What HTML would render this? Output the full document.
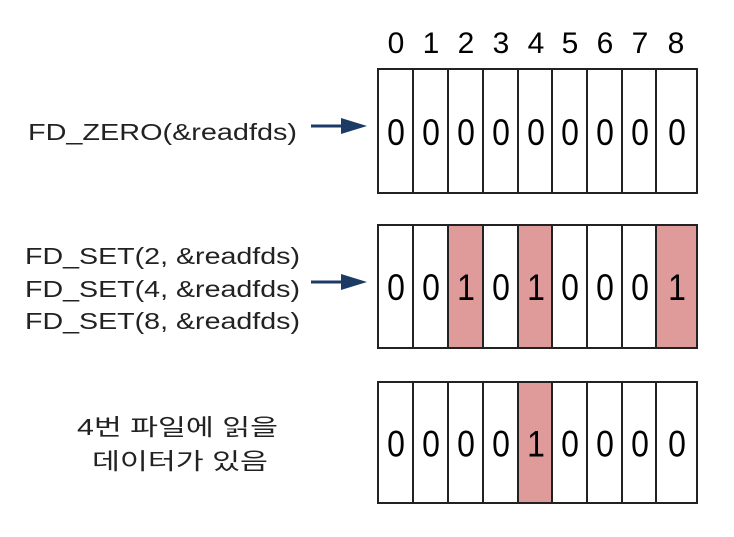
<!DOCTYPE html>
<html><head><meta charset="utf-8"><style>html,body{margin:0;padding:0;background:#fff}</style></head><body>
<svg width="734" height="532" xmlns="http://www.w3.org/2000/svg" font-family="Liberation Sans, Noto Sans CJK KR, sans-serif">
<g font-size="30" text-anchor="middle" fill="#000">
<text x="396" y="53">0</text><text x="431" y="53">1</text><text x="466" y="53">2</text><text x="501" y="53">3</text><text x="536" y="53">4</text><text x="570" y="53">5</text><text x="605" y="53">6</text><text x="640" y="53">7</text><text x="676" y="53">8</text>
</g>
<g stroke="#222" stroke-width="2" fill="#fff">
<rect x="378" y="69" width="319" height="124"/>
<rect x="378" y="225" width="319" height="123"/>
<rect x="448" y="225" width="35" height="123" fill="#df9a9a"/>
<rect x="518" y="225" width="34" height="123" fill="#df9a9a"/>
<rect x="656" y="225" width="41" height="123" fill="#df9a9a"/>
<rect x="378" y="382" width="319" height="121"/>
<rect x="518" y="382" width="34" height="121" fill="#df9a9a"/>
</g>
<g stroke="#222" stroke-width="2">
<path d="M413 69V193M448 69V193M483 69V193M518 69V193M552 69V193M587 69V193M622 69V193M656 69V193"/>
<path d="M413 225V348M448 225V348M483 225V348M518 225V348M552 225V348M587 225V348M622 225V348M656 225V348"/>
<path d="M413 382V503M448 382V503M483 382V503M518 382V503M552 382V503M587 382V503M622 382V503M656 382V503"/>
</g>
<g font-size="32" text-anchor="middle" fill="#000" transform="scale(1,1.15)">
<g transform="translate(0,-17)">
<text x="396" y="143">0</text><text x="431" y="143">0</text><text x="466" y="143">0</text><text x="501" y="143">0</text><text x="536" y="143">0</text><text x="570" y="143">0</text><text x="605" y="143">0</text><text x="640" y="143">0</text><text x="677" y="143">0</text>
</g>
<g transform="translate(0,-37)">
<text x="396" y="298">0</text><text x="431" y="298">0</text><text x="466" y="298">1</text><text x="501" y="298">0</text><text x="536" y="298">1</text><text x="570" y="298">0</text><text x="605" y="298">0</text><text x="640" y="298">0</text><text x="677" y="298">1</text>
</g>
<g transform="translate(0,-57)">
<text x="396" y="454">0</text><text x="431" y="454">0</text><text x="466" y="454">0</text><text x="501" y="454">0</text><text x="536" y="454">1</text><text x="570" y="454">0</text><text x="605" y="454">0</text><text x="640" y="454">0</text><text x="677" y="454">0</text>
</g>
</g>
<g fill="#1b3a66" stroke="#1b3a66">
<line x1="311" y1="126" x2="345" y2="126" stroke-width="3"/>
<polygon points="341,118 367,126 341,134" stroke="none"/>
<line x1="311" y1="282" x2="345" y2="282" stroke-width="3"/>
<polygon points="341,274 367,282 341,290" stroke="none"/>
</g>
<g font-size="23" fill="#222">
<text x="28" y="140" textLength="269" lengthAdjust="spacingAndGlyphs">FD_ZERO(&amp;readfds)</text>
<text x="25" y="264" textLength="275" lengthAdjust="spacingAndGlyphs">FD_SET(2, &amp;readfds)</text>
<text x="25" y="297" textLength="275" lengthAdjust="spacingAndGlyphs">FD_SET(4, &amp;readfds)</text>
<text x="25" y="329" textLength="275" lengthAdjust="spacingAndGlyphs">FD_SET(8, &amp;readfds)</text>
<text x="77" y="435" textLength="201" lengthAdjust="spacingAndGlyphs">4번 파일에 읽을</text>
<text x="92" y="469" textLength="176" lengthAdjust="spacingAndGlyphs">데이터가 있음</text>
</g>
</svg>
</body></html>
